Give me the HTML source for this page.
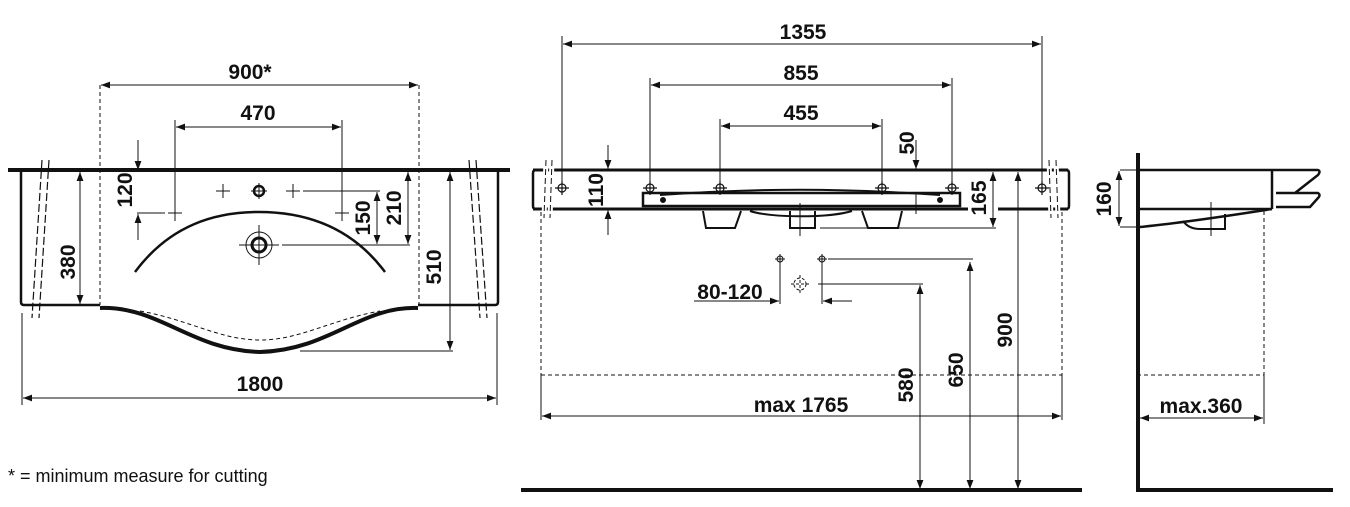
<!DOCTYPE html>
<html><head><meta charset="utf-8"><style>
html,body{margin:0;padding:0;background:#fff;}
svg{display:block;}
.t{font-family:"Liberation Sans",sans-serif;font-weight:bold;font-size:21px;fill:#111;}
</style></head><body>
<svg width="1350" height="507" viewBox="0 0 1350 507" xmlns="http://www.w3.org/2000/svg">
<defs>
<marker id="a" viewBox="0 0 10 10" refX="10" refY="5" markerWidth="14" markerHeight="9" markerUnits="userSpaceOnUse" orient="auto-start-reverse"><path d="M0,1.2 L10,5 L0,8.8z" fill="#111"/></marker>
</defs>
<g stroke="#111" fill="none" stroke-width="1">
<!-- LEFT VIEW -->
<line x1="8" y1="170" x2="510" y2="170" stroke-width="4"/>
<path d="M21,171 V302 q0,3 3,3 H100 M418,305 H495 q3,0 3,-3 V171" stroke-width="2.5"/>
<path d="M100,85 V305 M419,85 V305" stroke-dasharray="4,3"/>
<path d="M100,308 C160,306 190,350 260,352 C330,350 360,306 418,308" stroke-width="4"/>
<path d="M140,311 C190,320 220,340 260,340 C300,340 330,320 380,311" stroke-dasharray="4,3"/>
<path d="M42,160 L32,318 M49,160 L39,318 M469,160 L480,318 M476,160 L487,318" stroke-dasharray="8,3" stroke-width="1.2"/>
<line x1="80" y1="172" x2="80" y2="304" marker-start="url(#a)" marker-end="url(#a)"/>
<line x1="138" y1="140" x2="138" y2="170" marker-end="url(#a)"/>
<line x1="138" y1="240" x2="138" y2="214" marker-end="url(#a)"/>
<line x1="137" y1="213" x2="165" y2="213"/>
<line x1="175" y1="120" x2="175" y2="221"/><line x1="168" y1="213" x2="182" y2="213"/>
<line x1="342" y1="120" x2="342" y2="221"/><line x1="335" y1="213" x2="349" y2="213"/>
<line x1="176" y1="127" x2="341" y2="127" marker-start="url(#a)" marker-end="url(#a)"/>
<line x1="101" y1="85" x2="418" y2="85" marker-start="url(#a)" marker-end="url(#a)"/>
<path d="M216,191 h14 M223,184 v14 M286,191 h14 M293,184 v14"/>
<circle cx="259" cy="191" r="5" stroke-width="2.5"/><path d="M251,191 h16 M259,183 v16"/>
<line x1="303" y1="191" x2="380" y2="191"/>
<path d="M135,272 C170,225 215,212 259,212 C303,212 350,225 385,272" stroke-width="2.5"/>
<circle cx="259" cy="245" r="7" stroke-width="3"/><circle cx="259" cy="245" r="13"/>
<path d="M239,245 h40 M259,225 v40"/>
<line x1="282" y1="245" x2="410" y2="245"/>
<line x1="377" y1="192" x2="377" y2="244" marker-start="url(#a)" marker-end="url(#a)"/>
<line x1="408" y1="172" x2="408" y2="244" marker-start="url(#a)" marker-end="url(#a)"/>
<line x1="450" y1="172" x2="450" y2="350" marker-start="url(#a)" marker-end="url(#a)"/>
<line x1="300" y1="351" x2="453" y2="351"/>
<path d="M22,313 V405 M497,313 V405"/>
<line x1="23" y1="398" x2="496" y2="398" marker-start="url(#a)" marker-end="url(#a)"/>

<!-- MIDDLE VIEW -->
<line x1="533" y1="170" x2="1068" y2="170" stroke-width="3"/>
<path d="M533,209 H968 M998,209 H1068" stroke-width="3"/>
<path d="M545,170 H536 q-3,0 -3,3 V206 q0,3 3,3 H545 M1057,170 H1066 q3,0 3,3 V206 q0,3 -3,3 H1057" stroke-width="2.5"/>
<path d="M546,160 L544,218 M552,160 L550,218 M1049,160 L1051,218 M1056,160 L1058,218" stroke="#fff" stroke-width="5"/>
<path d="M546,160 L544,218 M552,160 L550,218 M1049,160 L1051,218 M1056,160 L1058,218" stroke-dasharray="6,3"/>
<rect x="643" y="193" width="317" height="13" stroke-width="2.5" fill="#fff"/>
<path d="M660,195 C760,188 840,188 940,195" stroke-width="2"/>
<circle cx="663" cy="200" r="2.5" fill="#111"/><circle cx="940" cy="200" r="2.5" fill="#111"/>
<g stroke-width="1.2">
<circle cx="562" cy="188" r="4"/><path d="M555,188h14M562,181v14"/>
<circle cx="650" cy="188" r="4"/><path d="M643,188h14M650,181v14"/>
<circle cx="720" cy="188" r="4"/><path d="M713,188h14M720,181v14"/>
<circle cx="882" cy="188" r="4"/><path d="M875,188h14M882,181v14"/>
<circle cx="952" cy="188" r="4"/><path d="M945,188h14M952,181v14"/>
<circle cx="1042" cy="188" r="4"/><path d="M1035,188h14M1042,181v14"/>
</g>
<path d="M703,211 L706,228 H735 L741,211 M750,211 C770,218 830,218 852,211 M790,211 V228 H815 V211 M862,211 L868,228 H898 L902,211" stroke-width="2"/>
<line x1="800" y1="203" x2="800" y2="236"/>
<path d="M562,36 V185 M1042,36 V185 M650,78 V185 M952,78 V185 M720,119 V185 M882,119 V185"/>
<line x1="563" y1="44" x2="1041" y2="44" marker-start="url(#a)" marker-end="url(#a)"/>
<line x1="651" y1="85" x2="951" y2="85" marker-start="url(#a)" marker-end="url(#a)"/>
<line x1="721" y1="126" x2="881" y2="126" marker-start="url(#a)" marker-end="url(#a)"/>
<line x1="916" y1="140" x2="916" y2="169" marker-end="url(#a)"/>
<line x1="916" y1="193" x2="916" y2="214"/><line x1="890" y1="193" x2="945" y2="193"/>
<line x1="608" y1="145" x2="608" y2="169" marker-end="url(#a)"/>
<line x1="608" y1="235" x2="608" y2="210" marker-end="url(#a)"/>
<line x1="993" y1="172" x2="993" y2="227" marker-start="url(#a)" marker-end="url(#a)"/>
<line x1="820" y1="228" x2="996" y2="228"/>
<line x1="1018" y1="172" x2="1018" y2="489" marker-start="url(#a)" marker-end="url(#a)"/>
<line x1="970" y1="262" x2="970" y2="489" marker-start="url(#a)" marker-end="url(#a)"/>
<line x1="828" y1="259" x2="973" y2="259"/>
<line x1="920" y1="285" x2="920" y2="489" marker-start="url(#a)" marker-end="url(#a)"/>
<line x1="818" y1="284" x2="923" y2="284"/>
<circle cx="780" cy="259" r="3"/><path d="M775,259h10M780,254v10"/>
<circle cx="822" cy="259" r="3"/><path d="M817,259h10M822,254v10"/>
<circle cx="800" cy="284" r="6" stroke-dasharray="3,2"/><path d="M791,284h18M800,275v18" stroke-dasharray="3,2"/>
<path d="M780,264 V304 M822,264 V304"/>
<line x1="694" y1="301" x2="779" y2="301" marker-end="url(#a)"/>
<line x1="852" y1="301" x2="823" y2="301" marker-end="url(#a)"/>
<path d="M541,212 V420 M1062,212 V420 M541,375 H1062" stroke-dasharray="4,3"/>
<path d="M541,375 V420 M1062,375 V420"/>
<line x1="542" y1="416" x2="1061" y2="416" marker-start="url(#a)" marker-end="url(#a)"/>
<line x1="521" y1="490" x2="1082" y2="490" stroke-width="4"/>

<!-- RIGHT VIEW -->
<path d="M1138,153 V490 H1333" stroke-width="4"/>
<path d="M1138,170 H1318 q3,1 0,5 L1295,193 M1272,170 V209 M1138,209 H1272 M1276,193 H1318 q3,2 0,5 L1310,207 H1276" stroke-width="2.5"/>
<path d="M1140,227 C1190,222 1240,214 1272,209" stroke-width="2.5"/>
<path d="M1183,221 C1188,228 1195,229 1200,229 H1225 V214" stroke-width="2"/>
<line x1="1211" y1="202" x2="1211" y2="236"/>
<path d="M1120,170 H1138 M1120,227 H1138"/>
<line x1="1119" y1="171" x2="1119" y2="226" marker-start="url(#a)" marker-end="url(#a)"/>
<path d="M1264,211 V375 H1140" stroke-dasharray="4,3"/>
<line x1="1264" y1="375" x2="1264" y2="424"/>
<line x1="1140" y1="418" x2="1263" y2="418" marker-start="url(#a)" marker-end="url(#a)"/>
</g>
<g class="t">
<text x="250" y="79" text-anchor="middle">900*</text>
<text x="258" y="120" text-anchor="middle">470</text>
<text x="260" y="391" text-anchor="middle">1800</text>
<text transform="translate(75,262) rotate(-90)" text-anchor="middle">380</text>
<text transform="translate(132,190) rotate(-90)" text-anchor="middle">120</text>
<text transform="translate(370,218) rotate(-90)" text-anchor="middle">150</text>
<text transform="translate(401,208) rotate(-90)" text-anchor="middle">210</text>
<text transform="translate(441,267) rotate(-90)" text-anchor="middle">510</text>
<text x="803" y="39" text-anchor="middle">1355</text>
<text x="801" y="80" text-anchor="middle">855</text>
<text x="801" y="120" text-anchor="middle">455</text>
<text transform="translate(914,143) rotate(-90)" text-anchor="middle">50</text>
<text transform="translate(603,190) rotate(-90)" text-anchor="middle">110</text>
<text transform="translate(986,198) rotate(-90)" text-anchor="middle">165</text>
<text transform="translate(1012,330) rotate(-90)" text-anchor="middle">900</text>
<text transform="translate(963,370) rotate(-90)" text-anchor="middle">650</text>
<text transform="translate(913,385) rotate(-90)" text-anchor="middle">580</text>
<text x="730" y="299" text-anchor="middle">80-120</text>
<text x="801" y="412" text-anchor="middle">max 1765</text>
<text transform="translate(1111,199) rotate(-90)" text-anchor="middle">160</text>
<text x="1201" y="413" text-anchor="middle">max.360</text>
</g>
<text x="8" y="482" font-family="Liberation Sans,sans-serif" font-size="18" fill="#111">* = minimum measure for cutting</text>
</svg>
</body></html>
